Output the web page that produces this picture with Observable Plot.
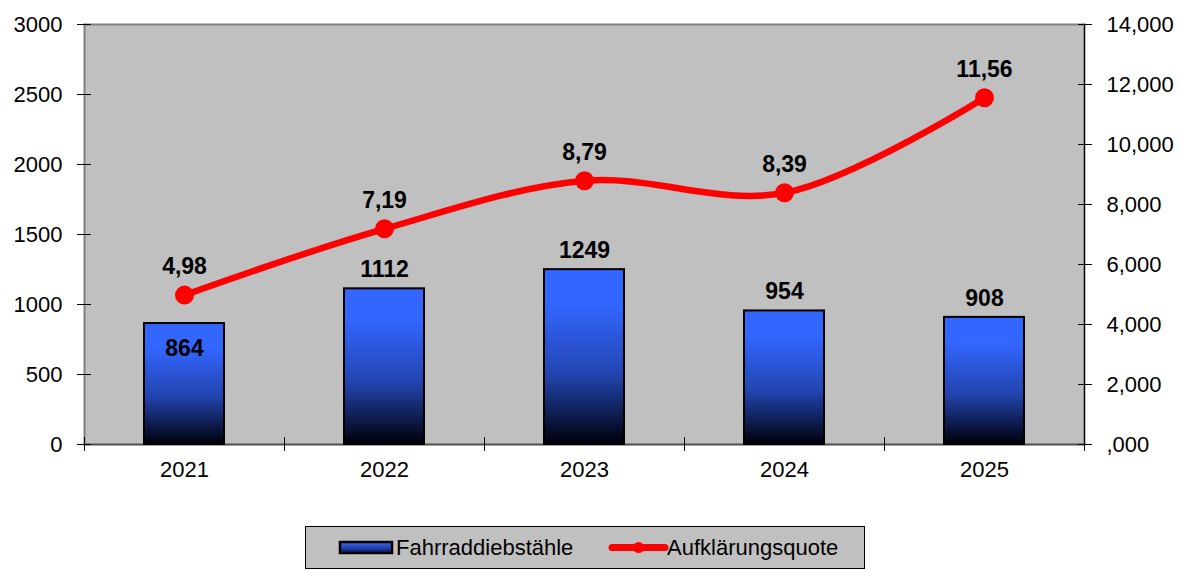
<!DOCTYPE html>
<html><head><meta charset="utf-8">
<script src="https://cdn.jsdelivr.net/npm/d3@7"></script>
<script src="https://cdn.jsdelivr.net/npm/@observablehq/plot@0.6"></script>
<style>
body{margin:0;background:#fff;font-family:"Liberation Sans",Arial,sans-serif;}
#wrap{position:relative;width:1180px;height:569px;overflow:hidden;}
#legend{position:absolute;left:305px;top:526px;width:558px;height:41px;background:#c0c0c0;border:1px solid #000;font-size:22px;color:#000;}
#legend .item{position:absolute;top:0;height:41px;line-height:41px;white-space:nowrap;}
#legend svg{position:absolute;top:0;}
</style></head><body><div id="wrap"></div>
<script>
const years = ["2021","2022","2023","2024","2025"];
const thefts = [864, 1112, 1249, 954, 908];
const quote = [4.98, 7.19, 8.79, 8.39, 11.56];
const leftTicks = [0, 500, 1000, 1500, 2000, 2500, 3000];
const rightTicks = [0, 2, 4, 6, 8, 10, 12, 14];
const seriesNames = ["Fahrraddiebstähle", "Aufklärungsquote"];

const leftMax = 3000, rightMax = 14;
const k = leftMax / rightMax;
const data = years.map((y, i) => ({year: y, thefts: thefts[i], quote: quote[i]}));
const fmtDE = v => v.toFixed(2).replace(".", ",");
const fmtRight = v => (v === 0 ? "" : String(v)) + ",000";
const font = "Liberation Sans, Arial, sans-serif";

const plot = Plot.plot({
  width: 1180, height: 500,
  marginLeft: 84, marginRight: 96, marginTop: 24, marginBottom: 56,
  style: {fontFamily: font, fontSize: "22px", color: "#000", background: "transparent", overflow: "visible"},
  x: {type: "band", domain: years, paddingInner: 0.6, paddingOuter: 0.3},
  y: {domain: [0, leftMax]},
  marks: [
    Plot.frame({fill: "#c0c0c0", stroke: null}),
    Plot.frame({anchor: "top", stroke: "#808080", strokeWidth: 2}),
    Plot.frame({anchor: "left", stroke: "#808080", strokeWidth: 2}),
    Plot.frame({anchor: "bottom", stroke: "#505050", strokeWidth: 2}),
    Plot.frame({anchor: "right", stroke: "#000", strokeWidth: 1.5}),
    Plot.axisY(leftTicks, {anchor: "left", tickSize: 14, dx: 7, tickPadding: 15, tickFormat: d => String(d), fontSize: 22, label: null, stroke: "#000"}),
    Plot.axisY(rightTicks, {y: d => d * k, anchor: "right", tickSize: 14, dx: -7, tickPadding: 15, text: d => fmtRight(d), fontSize: 22, label: null, stroke: "#000"}),
    Plot.axisX({tickSize: 0, tickPadding: 17, fontSize: 22, label: null}),
    Plot.ruleX(years, {dx: -100, y1: -50, y2: 50, stroke: "#000", strokeWidth: 1}),
    Plot.ruleX([years[years.length - 1]], {dx: 100, y1: -50, y2: 50, stroke: "#000", strokeWidth: 1}),
    Plot.barY(data, {x: "year", y: "thefts", fill: "url(#barGrad)", stroke: "#000", strokeWidth: 2}),
    Plot.text(data.filter(d => d.year !== "2021"), {x: "year", y: "thefts", text: d => String(d.thefts), dy: -19, fontWeight: "bold", fontSize: 23, fill: "#000"}),
    Plot.text(data.filter(d => d.year === "2021"), {x: "year", y: "thefts", text: d => String(d.thefts), dy: 25, fontWeight: "bold", fontSize: 23, fill: "#000"}),
    Plot.line(data, {x: "year", y: d => d.quote * k, stroke: "#ff0000", strokeWidth: 6.5, curve: "catmull-rom"}),
    Plot.dot(data, {x: "year", y: d => d.quote * k, r: 9.5, fill: "#ff0000", stroke: null}),
    Plot.text(data, {x: "year", y: d => d.quote * k, text: d => fmtDE(d.quote), dy: -28, fontWeight: "bold", fontSize: 23, fill: "#000"})
  ]
});

const defs = d3.select(plot).insert("defs", ":first-child");
const g = defs.append("linearGradient").attr("id", "barGrad").attr("x1", 0).attr("y1", 0).attr("x2", 0).attr("y2", 1);
[[0, "#3366ff"], [0.2, "#3366ff"], [0.6, "#2245b0"], [1, "#00000a"]].forEach(([o, c]) => g.append("stop").attr("offset", o).attr("stop-color", c));

const wrap = document.getElementById("wrap");
wrap.appendChild(plot);

const legend = document.createElement("div");
legend.id = "legend";
legend.innerHTML = `
  <svg width="60" height="41" style="left:32px"><defs><linearGradient id="legGrad" x1="0" y1="0" x2="0" y2="1"><stop offset="0" stop-color="#3a6cff"/><stop offset="1" stop-color="#0a1a60"/></linearGradient></defs>
    <rect x="2" y="15" width="52" height="11" fill="url(#legGrad)" stroke="#000" stroke-width="2.5"/></svg>
  <div class="item" style="left:90px">${seriesNames[0]}</div>
  <svg width="62" height="41" style="left:301px"><line x1="5" y1="20.5" x2="58" y2="20.5" stroke="#ff0000" stroke-width="7" stroke-linecap="round"/><circle cx="31.5" cy="20.5" r="5.5" fill="#ff0000"/></svg>
  <div class="item" style="left:361px">${seriesNames[1]}</div>`;
wrap.appendChild(legend);
</script>
</body></html>
